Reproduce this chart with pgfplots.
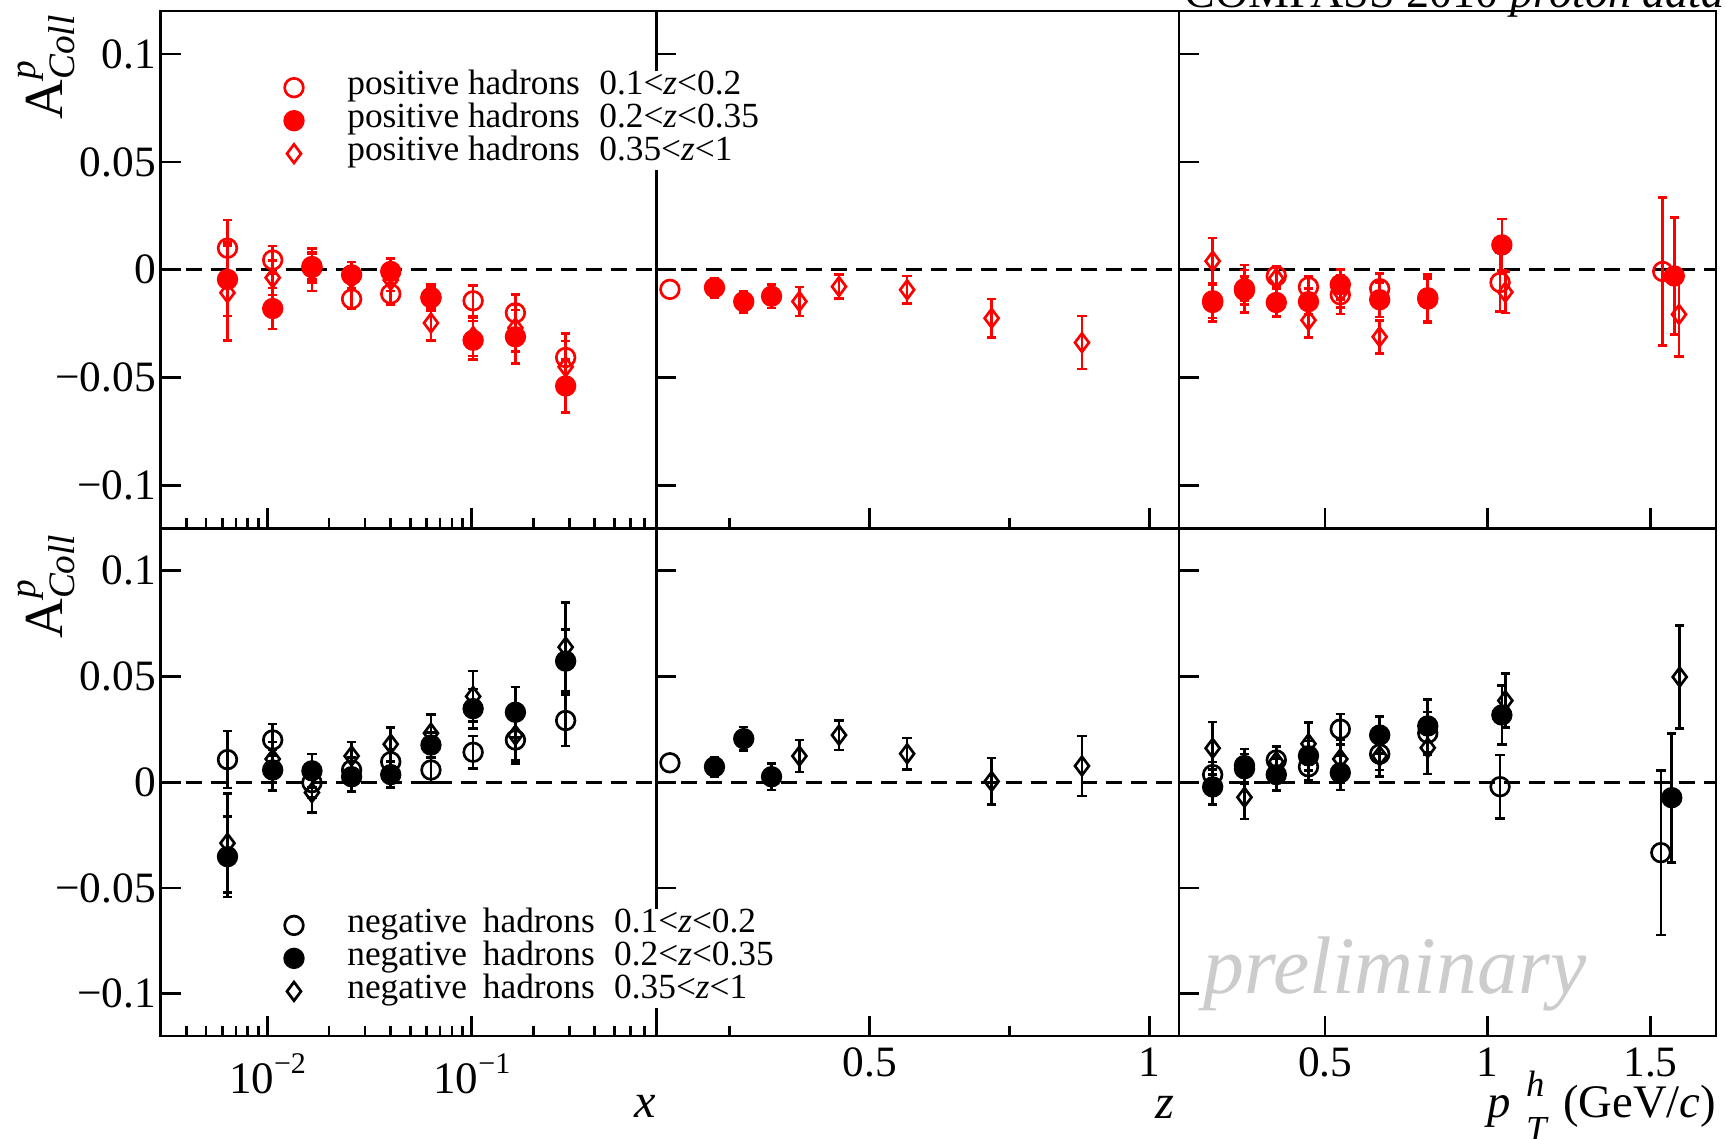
\documentclass[border=0pt]{standalone}
\usepackage{fontspec}
\setmainfont{Liberation Serif}
\usepackage{pgfplots}
\pgfplotsset{compat=1.18}
\definecolor{prel}{gray}{0.8}
\pgfplotsset{
  legend image code/.code={\draw[mark repeat=2,mark phase=2,#1] plot coordinates {(0cm,0cm) (0.2cm,0cm) (0.4cm,0cm)};},
  panel/.style={
    scale only axis, anchor=south west,
    ymin=-0.12, ymax=0.12, ytick={-0.1,-0.05,0,0.05,0.1}, yticklabels={},
    axis line style={line width=0.8pt},
    tick style={black, line width=0.8pt},
    major tick length=6pt, minor tick length=3pt,
    tick align=inside, xtick pos=bottom, ytick pos=left,
    tick label style={font=\fontsize{13}{15}\selectfont},
    xticklabel style={anchor=base, inner sep=0pt, yshift=-12.3pt},
    yticklabel style={anchor=east, inner sep=0pt, xshift=-1.3pt},
  },
  zl/.style={black, line width=0.8pt, dash pattern=on 4.8pt off 2.7pt, forget plot},
  ser/.style={only marks, line width=0.8pt, mark size=2.8pt,
    error bars/y dir=both, error bars/y explicit,
    error bars/error bar style={line width=0.8pt, solid},
    error bars/error mark options={rotate=90, line width=0.8pt, mark size=1.4pt}},
  sO/.style={ser, #1, mark=o},
  sF/.style={ser, #1, mark=*},
  sD/.style={ser, #1, mark=diamond, mark size=2.8pt},
  leg/.style={legend style={at={#1}, anchor=north west, draw=none, fill=white,
    inner sep=0pt, row sep=0pt, font=\fontsize{10.6}{12}\selectfont,
    cells={anchor=west}, nodes={inner sep=0pt, text height=7.1pt, text depth=2.8pt},
    /tikz/every odd column/.append style={column sep=13.2pt}}},
}
\newcommand{\pXw}{148.68pt}
\newcommand{\pZw}{156.81pt}
\newcommand{\pPw}{161.04pt}
\newcommand{\pTh}{155.25pt}
\newcommand{\pBh}{152.25pt}
\newcommand{\tenpow}[1]{10\raisebox{6pt}{\fontsize{9}{10}\selectfont #1}}
\begin{document}
\begin{tikzpicture}
% ---------------- z panel, top
\begin{axis}[panel, at={(196.89pt,183.15pt)}, width=\pZw, height=\pTh,
  xmin=0.1186, xmax=1.053, xtick={0.5,1}, minor xtick={0.25,0.75}, xticklabels={}]
\addplot[zl] coordinates {(0.1186,0) (1.053,0)};
\addplot[red, only marks, mark=o, mark size=2.8pt, line width=0.8pt] coordinates {(0.1429,-0.0091)};
\addplot[sF=red] table[y error index=2] {
0.2226 -0.0083 0.0045
0.2749 -0.0148 0.0050
0.3246 -0.0123 0.0055
};
\addplot[sD=red] table[y error index=2] {
0.3744 -0.0147 0.0067
0.4452 -0.0078 0.0055
0.5670 -0.0093 0.0064
0.7180 -0.0225 0.0090
0.8795 -0.0338 0.0123
};
\end{axis}
% ---------------- pT panel, top
\begin{axis}[panel, at={(353.70pt,183.15pt)}, width=\pPw, height=\pTh,
  xmin=0.051, xmax=1.701, xtick={0.5,1,1.5}, xticklabels={}]
\addplot[zl] coordinates {(0.051,0) (1.701,0)};
\addplot[sO=red] table[y error index=2] {
0.1544 -0.0144 0.0080
0.2522 -0.0088 0.0110
0.3500 -0.0029 0.0045
0.4489 -0.0080 0.0050
0.5467 -0.0116 0.0090
0.6678 -0.0088 0.0072
0.8156 -0.0130 0.0110
1.0378 -0.0059 0.0136
1.5378 -0.0008 0.0343
};
\addplot[sF=red] table[y error index=2] {
0.1544 -0.0152 0.0088
0.2522 -0.0096 0.0064
0.3500 -0.0152 0.0064
0.4489 -0.0148 0.0060
0.5467 -0.0069 0.0070
0.6678 -0.0139 0.0080
0.8156 -0.0136 0.0110
1.0433 0.0115 0.0120
1.5733 -0.0029 0.0271
};
\addplot[sD=red] table[y error index=2] {
0.1544 0.0040 0.0107
0.2522 -0.0072 0.0070
0.3500 -0.0040 0.0050
0.4489 -0.0234 0.0080
0.5467 -0.0104 0.0070
0.6678 -0.0311 0.0077
0.8156 -0.0140 0.0100
1.0540 -0.0104 0.0096
1.5878 -0.0207 0.0195
};
\end{axis}
% ---------------- z panel, bottom
\begin{axis}[panel, at={(196.89pt,30.9pt)}, width=\pZw, height=\pBh,
  xmin=0.1186, xmax=1.053, xtick={0.5,1}, minor xtick={0.25,0.75}, xticklabels={0.5,1}]
\addplot[zl] coordinates {(0.1186,0) (1.053,0)};
\addplot[black, only marks, mark=o, mark size=2.8pt, line width=0.8pt] coordinates {(0.1429,0.0092)};
\addplot[sF=black] table[y error index=2] {
0.2226 0.0073 0.0047
0.2749 0.0206 0.0055
0.3246 0.0026 0.0062
};
\addplot[sD=black] table[y error index=2] {
0.3744 0.0124 0.0075
0.4452 0.0223 0.0070
0.5670 0.0135 0.0075
0.7180 0.0004 0.0110
0.8795 0.0077 0.0142
};
\end{axis}
% ---------------- pT panel, bottom
\begin{axis}[panel, at={(353.70pt,30.9pt)}, width=\pPw, height=\pBh,
  xmin=0.051, xmax=1.701, xtick={0.5,1,1.5}, xticklabels={0.5,1,1.5}]
\addplot[zl] coordinates {(0.051,0) (1.701,0)};
\addplot[sO=black] table[y error index=2] {
0.1544 0.0036 0.0060
0.2522 0.0064 0.0070
0.3500 0.0105 0.0067
0.4489 0.0073 0.0066
0.5467 0.0251 0.0071
0.6678 0.0133 0.0075
0.8156 0.0232 0.0100
1.0378 -0.0021 0.0150
1.5320 -0.0333 0.0390
};
\addplot[sF=black] table[y error index=2] {
0.1544 -0.0022 0.0083
0.2522 0.0079 0.0078
0.3500 0.0036 0.0075
0.4489 0.0125 0.0070
0.5467 0.0045 0.0081
0.6678 0.0223 0.0088
0.8156 0.0266 0.0125
1.0433 0.0318 0.0139
1.5656 -0.0073 0.0305
};
\addplot[sD=black] table[y error index=2] {
0.1544 0.0161 0.0124
0.2522 -0.0071 0.0103
0.3500 0.0097 0.0070
0.4489 0.0182 0.0101
0.5467 0.0110 0.0090
0.6678 0.0124 0.0098
0.8156 0.0163 0.0124
1.0540 0.0386 0.0127
1.5900 0.0498 0.0244
};
\end{axis}
% ---------------- x panel, top
\begin{axis}[panel, at={(48.21pt,183.15pt)}, width=\pXw, height=\pTh,
  xmode=log, xmin=0.003, xmax=0.8, xtick={0.01,0.1}, xticklabels={},
  minor xtick={0.003,0.004,0.005,0.006,0.007,0.008,0.009,0.02,0.03,0.04,0.05,0.06,0.07,0.08,0.09,0.2,0.3,0.4,0.5,0.6,0.7,0.8},
  yticklabels={−0.1,−0.05,0,0.05,0.1},
  leg={(0.2488,0.885)}]
\addplot[zl] coordinates {(0.003,0) (0.8,0)};
\addplot[sO=red] table[y error index=2] {
0.00637 0.0100 0.0130
0.0106 0.0045 0.0065
0.0165 0.0015 0.0060
0.0258 -0.0136 0.0045
0.0401 -0.0112 0.0050
0.0631 -0.0130 0.0050
0.1015 -0.0144 0.0070
0.1635 -0.0200 0.0085
0.2880 -0.0407 0.0110
};
\addlegendentry{positive hadrons\hspace{0.55em}0.1<\textit{z}<0.2}
\addplot[sF=red] table[y error index=2] {
0.00637 -0.0045 0.0170
0.0106 -0.0180 0.0095
0.0165 0.0010 0.0070
0.0258 -0.0024 0.0060
0.0401 -0.0008 0.0060
0.0631 -0.0128 0.0060
0.1015 -0.0327 0.0090
0.1635 -0.0311 0.0124
0.2880 -0.0539 0.0123
};
\addlegendentry{positive hadrons\hspace{0.55em}0.2<\textit{z}<0.35}
\addplot[sD=red] table[y error index=2] {
0.00637 -0.0107 0.0220
0.0106 -0.0037 0.0080
0.0165 0.0000 0.0098
0.0258 -0.0040 0.0050
0.0401 -0.0048 0.0050
0.0631 -0.0247 0.0080
0.1015 -0.0310 0.0090
0.1635 -0.0270 0.0110
0.2880 -0.0450 0.0120
};
\addlegendentry{positive hadrons\hspace{0.55em}0.35<\textit{z}<1}
\end{axis}
% ---------------- x panel, bottom
\begin{axis}[panel, at={(48.21pt,30.9pt)}, width=\pXw, height=\pBh,
  xmode=log, xmin=0.003, xmax=0.8, xtick={0.01,0.1},
  xticklabels={\tenpow{−2},\tenpow{−1}},
  xticklabel style={font=\fontsize{13.5}{15}\selectfont, yshift=-5pt},
  minor xtick={0.003,0.004,0.005,0.006,0.007,0.008,0.009,0.02,0.03,0.04,0.05,0.06,0.07,0.08,0.09,0.2,0.3,0.4,0.5,0.6,0.7,0.8},
  yticklabels={−0.1,−0.05,0,0.05,0.1},
  leg={(0.2488,0.2518)}]
\addplot[zl] coordinates {(0.003,0) (0.8,0)};
\addplot[sO=black] table[y error index=2] {
0.00637 0.0107 0.0135
0.0106 0.0200 0.0075
0.0165 -0.0002 0.0070
0.0258 0.0058 0.0060
0.0401 0.0097 0.0060
0.0631 0.0058 0.0060
0.1015 0.0142 0.0077
0.1635 0.0200 0.0110
0.2880 0.0292 0.0120
};
\addlegendentry{negative\hspace{0.45em}hadrons\hspace{0.55em}0.1<\textit{z}<0.2}
\addplot[sF=black] table[y error index=2] {
0.00637 -0.0352 0.0190
0.0106 0.0058 0.0098
0.0165 0.0054 0.0080
0.0258 0.0026 0.0070
0.0401 0.0036 0.0062
0.0631 0.0176 0.0060
0.1015 0.0348 0.0093
0.1635 0.0331 0.0120
0.2880 0.0573 0.0148
};
\addlegendentry{negative\hspace{0.45em}hadrons\hspace{0.55em}0.2<\textit{z}<0.35}
\addplot[sD=black] table[y error index=2] {
0.00637 -0.0288 0.0234
0.0106 0.0110 0.0080
0.0165 -0.0049 0.0093
0.0258 0.0124 0.0067
0.0401 0.0180 0.0080
0.0631 0.0232 0.0088
0.1015 0.0406 0.0120
0.1635 0.0223 0.0120
0.2880 0.0639 0.0210
};
\addlegendentry{negative\hspace{0.45em}hadrons\hspace{0.55em}0.35<\textit{z}<1}
\end{axis}
% ---------------- labels
\node[rotate=90, anchor=base east, inner sep=0pt, font=\fontsize{16.5}{19}\selectfont]
  at (18.9pt,337.8pt) {A$^{\hbox{\fontsize{11.2}{13}\selectfont\itshape p}}_{\hbox{\fontsize{11.2}{13}\selectfont\itshape Coll}}$};
\node[rotate=90, anchor=base east, inner sep=0pt, font=\fontsize{16.5}{19}\selectfont]
  at (18.9pt,182.0pt) {A$^{\hbox{\fontsize{11.2}{13}\selectfont\itshape p}}_{\hbox{\fontsize{11.2}{13}\selectfont\itshape Coll}}$};
\node[anchor=base, inner sep=0pt, font=\fontsize{14.5}{17}\selectfont\itshape] at (193.5pt,6.3pt) {x};
\node[anchor=base, inner sep=0pt, font=\fontsize{14.5}{17}\selectfont\itshape] at (349.5pt,6.0pt) {z};
\node[anchor=base east, inner sep=0pt, font=\fontsize{14}{17}\selectfont] at (515pt,6.3pt)
  {\textit{p}\hspace{4.5pt}\rlap{\raisebox{6.5pt}{\fontsize{11}{12}\selectfont\itshape h}}\raisebox{-7.2pt}{\fontsize{11}{12}\selectfont\itshape T}\hspace{5pt}(GeV/\textit{c})};
\node[anchor=base west, inner sep=0pt, text=prel, font=\fontsize{24.5}{28}\selectfont\itshape] at (360.9pt,43.6pt) {preliminary};
\node[anchor=base east, inner sep=0pt, font=\fontsize{13.8}{16}\selectfont] at (517.5pt,339.3pt) {COMPASS 2010 \textit{proton data}};
\pgfresetboundingbox
\path[use as bounding box] (0,0) rectangle (518.1pt,341.7pt);
\end{tikzpicture}
\end{document}
